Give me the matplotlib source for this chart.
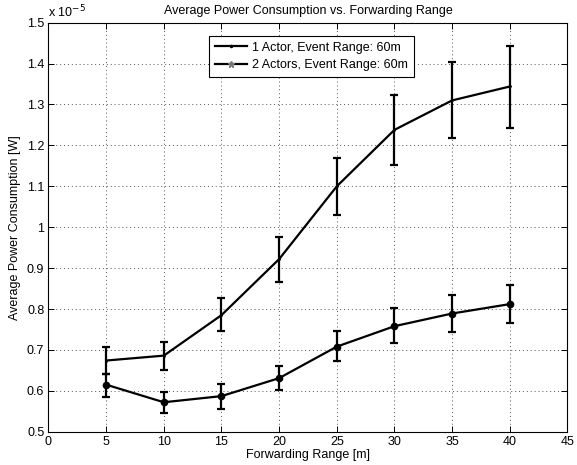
import matplotlib
matplotlib.use("Agg")
import matplotlib.pyplot as plt
from matplotlib.lines import Line2D
from matplotlib.ticker import FuncFormatter, MultipleLocator

plt.rcParams['font.family'] = ['Liberation Sans', 'DejaVu Sans']

# Forwarding range [m]
ranges = [5, 10, 15, 20, 25, 30, 35, 40]

# Average power consumption, in units of 1e-5 W
one_actor_mean = [0.674, 0.686, 0.785, 0.922, 1.100, 1.238, 1.310, 1.344]
one_actor_low = [0.641, 0.651, 0.745, 0.867, 1.029, 1.151, 1.217, 1.243]
one_actor_high = [0.707, 0.720, 0.826, 0.975, 1.169, 1.323, 1.403, 1.443]

two_actor_mean = [0.615, 0.572, 0.587, 0.631, 0.708, 0.758, 0.789, 0.812]
two_actor_low = [0.586, 0.545, 0.556, 0.602, 0.673, 0.716, 0.744, 0.766]
two_actor_high = [0.641, 0.598, 0.617, 0.661, 0.745, 0.802, 0.834, 0.858]

labels = ["1 Actor, Event Range: 60m", "2 Actors, Event Range: 60m"]

fig = plt.figure(figsize=(5.77, 4.65), dpi=100)
ax = fig.add_axes([0.084, 0.0716, 0.8995, 0.8796])


def err(mean, low, high):
    return [[m - l for m, l in zip(mean, low)], [h - m for m, h in zip(mean, high)]]


ax.errorbar(ranges, one_actor_mean, yerr=err(one_actor_mean, one_actor_low, one_actor_high),
            color='black', lw=1.6, elinewidth=1.6, capsize=2.8, capthick=1.6,
            marker='.', markersize=2)
ax.errorbar(ranges, two_actor_mean, yerr=err(two_actor_mean, two_actor_low, two_actor_high),
            color='black', lw=1.6, elinewidth=1.6, capsize=2.8, capthick=1.6,
            marker='o', markersize=4.5)

ax.set_xlim(0, 45)
ax.set_ylim(0.5, 1.5)
ax.xaxis.set_major_locator(MultipleLocator(5))
ax.yaxis.set_major_locator(MultipleLocator(0.1))
ax.yaxis.set_major_formatter(FuncFormatter(lambda v, p: f"{v:g}"))
ax.grid(True, linestyle=(0, (1, 3)), color='#555555', linewidth=0.7)
ax.tick_params(direction='in', top=True, right=True, labelsize=9, length=4, width=0.7, pad=3)
for s in ax.spines.values():
    s.set_linewidth(0.8)

ax.set_xlabel("Forwarding Range [m]", fontsize=9, labelpad=1)
ax.set_ylabel("Average Power Consumption [W]", fontsize=9, labelpad=4)
ax.set_title("Average Power Consumption vs. Forwarding Range", fontsize=9, pad=6)
ax.text(0.0, 1.006, r"x 10$^{-5}$", transform=ax.transAxes, fontsize=9,
        ha='left', va='bottom')

handles = [
    Line2D([], [], color='black', lw=1.6, marker='.', markersize=3),
    Line2D([], [], color='black', lw=1.6, marker='*', markersize=5,
           markerfacecolor='#777777', markeredgecolor='#777777'),
]
leg = ax.legend(handles, labels, loc='upper left', bbox_to_anchor=(0.31, 0.9675),
                fontsize=9, fancybox=False, edgecolor='black', framealpha=1,
                handlelength=2.6, handletextpad=0.4, borderpad=0.45,
                labelspacing=0.45, borderaxespad=0)
leg.get_frame().set_linewidth(0.8)

fig.savefig("out.png", dpi=100)
